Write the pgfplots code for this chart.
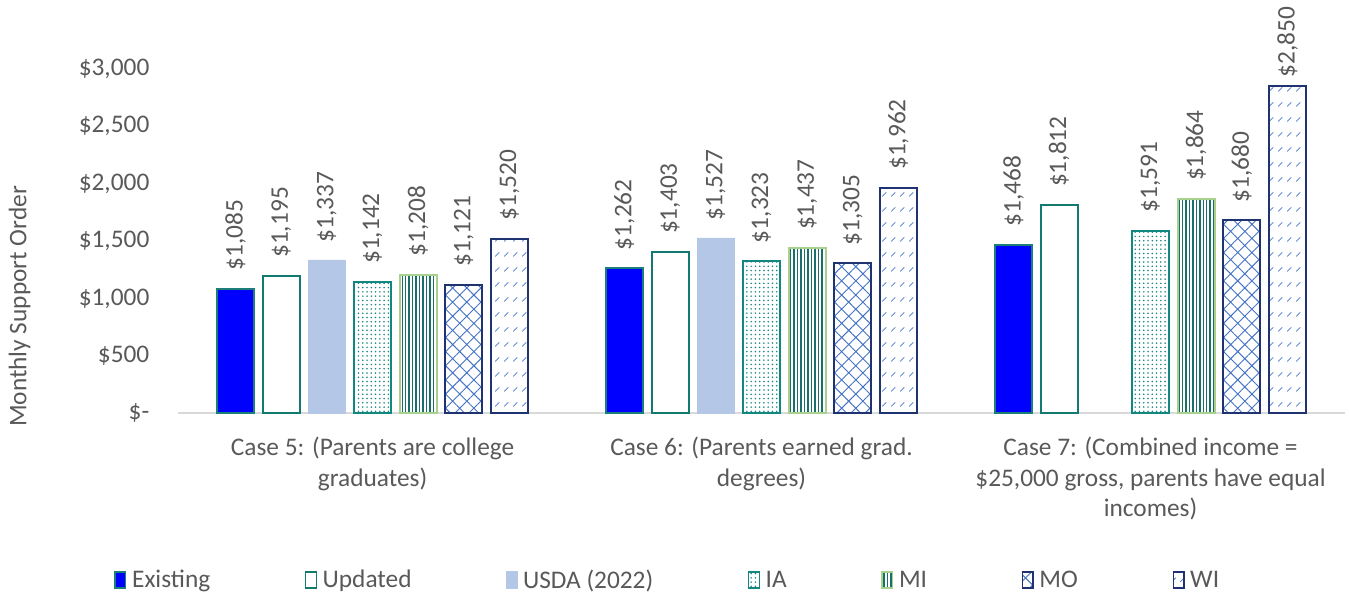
\documentclass[border=0pt]{standalone}
\usepackage{pgfplots}
\pgfplotsset{compat=1.18}
\usepackage{fontspec}
\setmainfont{Carlito}
\usetikzlibrary{patterns.meta}
\definecolor{txtgray}{HTML}{595959}
\definecolor{edgeteal}{HTML}{1A7F78}
\definecolor{updteal}{HTML}{137A71}
\definecolor{usda}{HTML}{B4C7E7}
\definecolor{iateal}{HTML}{12877F}
\definecolor{miedge}{HTML}{A9D18E}
\definecolor{mipat}{HTML}{1A6F6A}
\definecolor{navy}{HTML}{1F3370}
\definecolor{patblue}{HTML}{4472C4}
\definecolor{wipat}{HTML}{4A78CC}
\definecolor{axgray}{HTML}{D9D9D9}
\newcommand{\cfont}{\fontsize{19}{23}\selectfont}
\tikzdeclarepattern{
  name=widash,
  type=uncolored,
  bounding box={(0pt,0pt) and (6.5pt,11pt)},
  tile size={(6.5pt,11pt)},
  code={\draw[line width=0.6pt, line cap=round] (1pt,2pt) -- (4pt,5pt);}
}
\begin{document}
\begin{tikzpicture}
\begin{axis}[
  scale only axis, width=875pt, height=258pt,
  ymin=0, ymax=3000, xmin=-0.5, xmax=2.5,
  ybar=6.5pt, bar width=27.75pt,
  axis lines*=left,
  y axis line style={draw=none},
  x axis line style={draw=axgray, line width=1.2pt},
  tick style={draw=none},
  ytick={0,500,1000,1500,2000,2500,3000},
  yticklabels={{\$-\hspace{17pt}},{\$500},{\$1,000},{\$1,500},{\$2,000},{\$2,500},{\$3,000}},
  yticklabel style={font=\cfont, text=txtgray, xshift=-18pt},
  xtick={0,1,2},
  xticklabels={{Case 5: (Parents are college\\graduates)},{Case 6: (Parents earned grad.\\degrees)},{Case 7: (Combined income =\\\$25,000 gross, parents have equal\\incomes)}},
  xticklabel style={font=\cfont, text=txtgray, align=center, yshift=-10pt},
  ylabel={Monthly Support Order},
  ylabel style={at={(axis description cs:-0.1225,0.31)}, anchor=south, font=\cfont, text=txtgray},
  visualization depends on={y \as \rawy},
  nodes near coords={\$\pgfmathprintnumber{\pgfplotspointmeta}},
  nodes near coords style={rotate=90, anchor=west, inner xsep={(\rawy>2500)?6pt:13pt}, font=\cfont, text=txtgray},
  /pgf/number format/.cd, 1000 sep={,}, fixed, precision=0, assume math mode=true, /pgfplots/.cd,
  legend columns=7,
  legend style={draw=none, at={(axis description cs:0.42,-0.485)}, anchor=center,
    font=\cfont, text=txtgray,
    /tikz/every even column/.append style={column sep=69pt}},
  legend image code/.code={\draw[#1, line width=1pt] (0pt,-6pt) rectangle (8pt,6pt); \path (10pt,0pt);},
  clip=false,
]
\addplot[fill=blue, draw=edgeteal, line width=1.5pt] coordinates {(0,1085) (1,1262) (2,1468)};
\addlegendentry{Existing}
\addplot[fill=white, draw=updteal, line width=1.5pt] coordinates {(0,1195) (1,1403) (2,1812)};
\addlegendentry{Updated}
\addplot[fill=usda, draw=usda, line width=0.1pt] coordinates {(0,1337) (1,1527)};
\addlegendentry{USDA (2022)}
\addplot[draw=iateal, line width=1.5pt, pattern={Dots[distance=3.2pt, radius=0.65pt]}, pattern color=iateal] coordinates {(0,1142) (1,1323) (2,1591)};
\addlegendentry{IA}
\addplot[draw=miedge, line width=1.5pt, pattern={Lines[angle=90, distance=2.6pt, line width=1.1pt]}, pattern color=mipat] coordinates {(0,1208) (1,1437) (2,1864)};
\addlegendentry{MI}
\addplot[draw=navy, line width=1.5pt, pattern={Hatch[angle=45, distance=7.5pt, line width=0.7pt]}, pattern color=patblue] coordinates {(0,1121) (1,1305) (2,1680)};
\addlegendentry{MO}
\addplot[draw=navy, line width=1.5pt, pattern=widash, pattern color=wipat] coordinates {(0,1520) (1,1962) (2,2850)};
\addlegendentry{WI}
\coordinate (o) at (rel axis cs:0,0);
\coordinate (t) at (rel axis cs:1,1);
\end{axis}
\pgfresetboundingbox
\path[use as bounding box] ([xshift=-133.5pt,yshift=-139.5pt]o) rectangle ([xshift=3pt,yshift=51.75pt]t);
\end{tikzpicture}
\end{document}
